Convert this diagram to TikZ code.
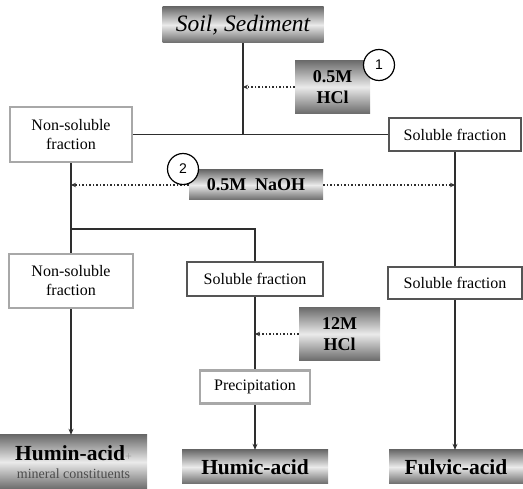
\documentclass[tikz,border=0pt]{standalone}
\usepackage{fontspec}
\setmainfont{Liberation Serif}
\newfontfamily\circfont{Liberation Sans}
\usetikzlibrary{arrows.meta,calc,shapes.geometric}
\definecolor{linec}{HTML}{2E2E2E}
\definecolor{lightb}{HTML}{A8A8A8}
\definecolor{darkb}{HTML}{555555}
\tikzset{
  grad/.style={draw=none,top color=black!58,bottom color=black!58,middle color=black!8,
    inner sep=0pt,align=center,text=black},
  lbox/.style={draw=lightb,line width=2.6pt,fill=white,inner sep=0pt,align=center,font=\fontsize{16}{19}\selectfont},
  dbox/.style={draw=darkb,line width=2.6pt,fill=white,inner sep=0pt,align=center,font=\fontsize{16}{19}\selectfont},
  conn/.style={draw=linec,line width=1.5pt},
  arr/.style={conn,-{Stealth[length=6pt,width=5pt]}},
  dotarr/.style={draw=linec,line width=1.5pt,dotted,-{Stealth[length=5pt,width=4.5pt]}},
  num/.style={circle,draw=black,line width=1.2pt,fill=white,minimum size=31pt,inner sep=0pt,font=\circfont\fontsize{14}{14}\selectfont},
  bigb/.style={font=\bfseries\fontsize{18}{21}\selectfont},
  acid/.style={font=\bfseries\fontsize{21.5}{24}\selectfont}
}
\begin{document}
\begin{tikzpicture}[x=1pt,y=-1pt]
\useasboundingbox (0,0) rectangle (523,489);
% nodes
\node[grad,minimum width=161pt,minimum height=36pt,font=\itshape\fontsize{23.5}{26}\selectfont] (soil) at (243,25) {Soil, Sediment};
\node[grad,bigb,minimum width=75pt,minimum height=53pt] (hcl1) at (332.5,87) {0.5M\\HCl};
\node[lbox,minimum width=122pt,minimum height=55pt] (ns1) at (71,134.5) {Non-soluble\\fraction};
\node[dbox,minimum width=132pt,minimum height=33pt] (sf1) at (455,134.5) {Soluble fraction};
\node[grad,bigb,minimum width=134pt,minimum height=30pt] (naoh) at (256,185) {0.5M\ \ NaOH};
\node[lbox,minimum width=124pt,minimum height=54pt] (ns2) at (71,281) {Non-soluble\\fraction};
\node[dbox,minimum width=136pt,minimum height=34pt] (sf2) at (255,279) {Soluble fraction};
\node[dbox,minimum width=134pt,minimum height=32pt] (sf3) at (455,283) {Soluble fraction};
\node[grad,bigb,minimum width=81pt,minimum height=53pt] (hcl2) at (339.5,334) {12M\\HCl};
\node[lbox,minimum width=110pt,minimum height=33pt] (prec) at (255,387) {Precipitation};
\node[grad,minimum width=147pt,minimum height=54pt] (humin) at (73.5,462) {{\bfseries\fontsize{21.5}{24}\selectfont Humin-acid}{\color{black!40}\fontsize{12}{12}\selectfont +}\\[6pt]{\color{black!70}\fontsize{14}{15}\selectfont mineral constituents}};
\node[grad,acid,minimum width=146pt,minimum height=34pt] (humic) at (255,467) {Humic-acid};
\node[grad,acid,minimum width=134pt,minimum height=34pt] (fulvic) at (456,467) {Fulvic-acid};
\coordinate (b1) at (71,229);
% connectors
\draw[conn] (soil.south) -- (soil.south |- ns1.east);
\draw[conn] (ns1.east) -- (sf1.west);
\draw[dotarr] (hcl1.west) -- (hcl1.west -| soil.south);
\draw[conn] (ns1.south) -- (ns2.north);
\draw[arr] (ns2.south) -- (ns2.south |- humin.north);
\draw[dotarr] (naoh.west) -- (naoh.west -| ns1.south);
\draw[dotarr] (naoh.east) -- (naoh.east -| sf1.south);
\draw[conn] (b1) -| (sf2.north);
\draw[conn] (sf1.south) -- (sf3.north);
\draw[arr] (sf3.south) -- (sf3.south |- fulvic.north);
\draw[conn] (sf2.south) -- (prec.north);
\draw[dotarr] (hcl2.west) -- (hcl2.west -| sf2.south);
\draw[arr] (prec.south) -- (humic.north);
\node[num] (c1) at (379,65) {1};
\node[num] (c2) at (183,169) {2};
\end{tikzpicture}
\end{document}
